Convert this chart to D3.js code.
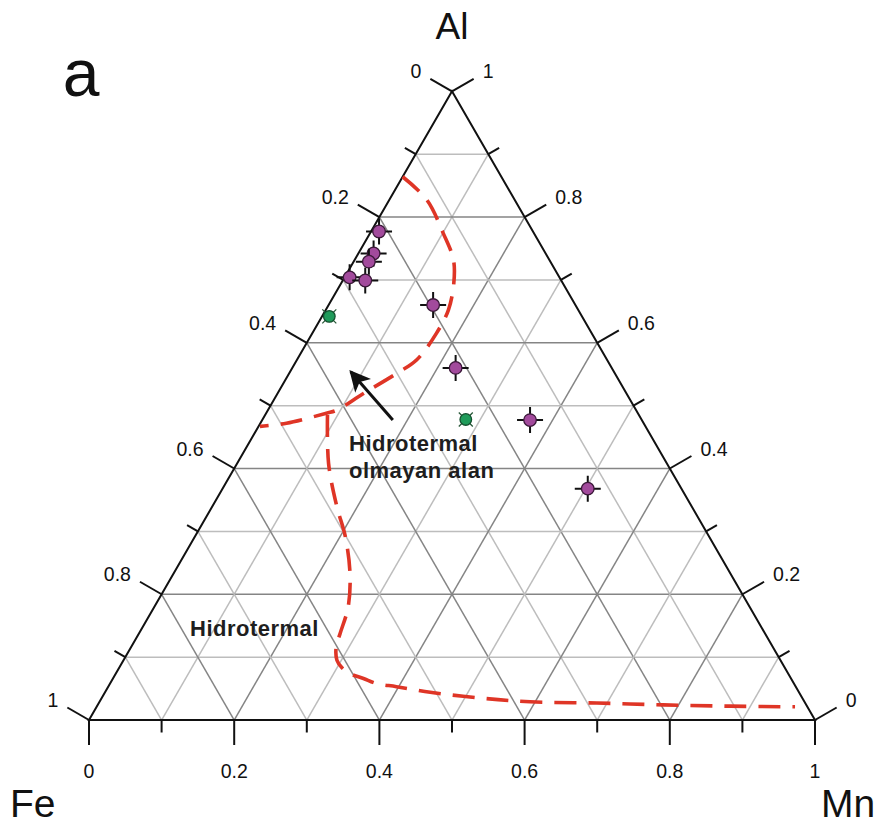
<!DOCTYPE html>
<html>
<head>
<meta charset="utf-8">
<script src="https://cdn.jsdelivr.net/npm/d3@7"></script>
<style>
  body { margin: 0; background: #fff; }
  svg { display: block; font-family: "Liberation Sans", Arial, sans-serif; }
</style>
</head>
<body>
<div id="chart"></div>
<script>
// sample compositions as fractions (Fe = 1 - Al - Mn)
const sampleAl = [0.777, 0.742, 0.729, 0.704, 0.699, 0.660, 0.560, 0.477, 0.368];
const sampleMn = [0.011, 0.021, 0.021, 0.007, 0.031, 0.144, 0.225, 0.369, 0.503];
const greenAl = [0.642, 0.478];
const greenMn = [0.010, 0.280];

// boundary of the non-hydrothermal field
const upperAl = [0.864, 0.827, 0.774, 0.732, 0.695, 0.652, 0.615, 0.573, 0.551, 0.519, 0.493, 0.488, 0.472, 0.467];
const upperMn = [0.000, 0.052, 0.101, 0.136, 0.155, 0.169, 0.171, 0.165, 0.148, 0.118, 0.095, 0.083, 0.036, 0.002];

// boundary of the hydrothermal field
const lowerAl = [0.485, 0.408, 0.339, 0.292, 0.233, 0.180, 0.138, 0.117, 0.095, 0.083, 0.074, 0.066, 0.058, 0.053, 0.044, 0.035, 0.029, 0.027, 0.024, 0.022, 0.021];
const lowerMn = [0.086, 0.126, 0.172, 0.207, 0.243, 0.267, 0.277, 0.282, 0.294, 0.307, 0.322, 0.345, 0.367, 0.397, 0.448, 0.521, 0.593, 0.686, 0.779, 0.872, 0.962];

const tickValues = [0, 0.1, 0.2, 0.3, 0.4, 0.5, 0.6, 0.7, 0.8, 0.9, 1];
const gridValues = [0.1, 0.2, 0.3, 0.4, 0.5, 0.6, 0.7, 0.8, 0.9];

const width = 885, height = 828;
const side = 726;
const x0 = 89, yBase = 720;

const svg = d3.select("#chart").append("svg")
    .attr("width", width)
    .attr("height", height);

// x runs along the base (Mn + Al/2), y is the Al height
const x = d3.scaleLinear().domain([0, 1]).range([x0, x0 + side]);
const y = d3.scaleLinear().domain([0, 1]).range([yBase, yBase - side * Math.sqrt(3) / 2]);
const px = (al, mn) => [x(mn + al / 2), y(al)];

const isMajor = v => Math.round(v * 10) % 2 === 0;
const fmt = v => String(+v.toFixed(1));

// grid
const gridG = svg.append("g").attr("fill", "none").attr("stroke-width", 1.5);
gridValues.forEach(v => {
    const col = isMajor(v) ? "#858585" : "#bdbdbd";
    const segs = [
        [px(v, 0), px(v, 1 - v)],          // Al = v
        [px(0, v), px(1 - v, v)],          // Mn = v
        [px(0, 1 - v), px(1 - v, 0)]       // Fe = v
    ];
    segs.forEach(s => gridG.append("line")
        .attr("x1", s[0][0]).attr("y1", s[0][1])
        .attr("x2", s[1][0]).attr("y2", s[1][1])
        .attr("stroke", col));
});

// frame
const corners = [px(0, 0), px(0, 1), px(1, 0)];
svg.append("path")
    .attr("d", d3.line()(corners) + "Z")
    .attr("fill", "none")
    .attr("stroke", "#111")
    .attr("stroke-width", 2);

// ticks and tick labels
const tickG = svg.append("g").attr("stroke", "#111").attr("stroke-width", 2);
const labelG = svg.append("g").attr("font-size", 19.5).attr("fill", "#111");
const c30 = Math.cos(Math.PI / 6), s30 = 0.5;
tickValues.forEach(v => {
    const len = isMajor(v) ? 25 : 12.5;
    // bottom: Mn
    const b = px(0, v);
    tickG.append("line").attr("x1", b[0]).attr("y1", b[1]).attr("x2", b[0]).attr("y2", b[1] + len);
    // left: Fe, ticks at Al = v on Mn = 0
    const l = px(v, 0);
    const le = [l[0] - c30 * len, l[1] - s30 * len];
    tickG.append("line").attr("x1", l[0]).attr("y1", l[1]).attr("x2", le[0]).attr("y2", le[1]);
    // right: Al, ticks at Al = v on Fe = 0
    const r = px(v, 1 - v);
    const re = [r[0] + c30 * len, r[1] - s30 * len];
    tickG.append("line").attr("x1", r[0]).attr("y1", r[1]).attr("x2", re[0]).attr("y2", re[1]);

    if (isMajor(v)) {
        labelG.append("text").attr("x", b[0]).attr("y", 778)
            .attr("text-anchor", "middle").text(fmt(v));
        labelG.append("text").attr("x", le[0] - 9).attr("y", le[1] - 0.5)
            .attr("text-anchor", "end").text(fmt(1 - v));
        labelG.append("text").attr("x", re[0] + 9).attr("y", re[1] - 0.5)
            .attr("text-anchor", "start").text(fmt(v));
    }
});

// apex names
const nameG = svg.append("g").attr("fill", "#111");
nameG.append("text").attr("x", 452).attr("y", 39).attr("font-size", 37).attr("text-anchor", "middle").text("Al");
nameG.append("text").attr("x", 10).attr("y", 817).attr("font-size", 39).text("Fe");
nameG.append("text").attr("x", 821).attr("y", 817).attr("font-size", 39).text("Mn");
nameG.append("text").attr("x", 81).attr("y", 96).attr("font-size", 66).attr("text-anchor", "middle").text("a");

// boundaries
const curve = d3.line().curve(d3.curveCatmullRom.alpha(0.5));
const bounds = [
    d3.zip(upperAl, upperMn).map(d => px(d[0], d[1])),
    d3.zip(lowerAl, lowerMn).map(d => px(d[0], d[1]))
];
svg.append("g").selectAll("path")
    .data(bounds)
    .join("path")
    .attr("d", d => curve(d))
    .attr("fill", "none")
    .attr("stroke", "#df3526")
    .attr("stroke-width", 3.6)
    .attr("stroke-dasharray", "22,12");

// arrow
svg.append("defs").append("marker")
    .attr("id", "head")
    .attr("viewBox", "0 0 10 10")
    .attr("refX", 9).attr("refY", 5)
    .attr("markerWidth", 7).attr("markerHeight", 7)
    .attr("markerUnits", "strokeWidth")
    .attr("orient", "auto")
    .append("path").attr("d", "M0,0L10,5L0,10L2.5,5Z").attr("fill", "#111");
const arrowFrom = px(0.477, 0.180), arrowTo = px(0.554, 0.0835);
svg.append("line")
    .attr("x1", arrowFrom[0]).attr("y1", arrowFrom[1])
    .attr("x2", arrowTo[0]).attr("y2", arrowTo[1])
    .attr("stroke", "#111").attr("stroke-width", 3)
    .attr("marker-end", "url(#head)");

// field labels
const noteG = svg.append("g").attr("font-size", 22).attr("font-weight", "bold")
    .attr("fill", "#1e1e1e").attr("letter-spacing", 0.5);
noteG.append("text").attr("x", 349).attr("y", 451).text("Hidrotermal");
noteG.append("text").attr("x", 349).attr("y", 478).text("olmayan alan");
noteG.append("text").attr("x", 190).attr("y", 636).text("Hidrotermal");

// samples with error crosses
const samples = d3.zip(sampleAl, sampleMn).map(d => px(d[0], d[1]));
const sg = svg.append("g").selectAll("g").data(samples).join("g")
    .attr("transform", d => `translate(${d[0]},${d[1]})`);
sg.append("path").attr("d", "M-13,0H13M0,-13V13")
    .attr("stroke", "#111").attr("stroke-width", 2);
sg.append("circle").attr("r", 6.3)
    .attr("fill", "#a24a9c").attr("stroke", "#3a1838").attr("stroke-width", 1.3);

const greens = d3.zip(greenAl, greenMn).map(d => px(d[0], d[1]));
const gg = svg.append("g").selectAll("g").data(greens).join("g")
    .attr("transform", d => `translate(${d[0]},${d[1]})`);
gg.append("path").attr("d", "M-7,-7L7,7M-7,7L7,-7")
    .attr("stroke", "#2a5a3a").attr("stroke-width", 1.3);
gg.append("circle").attr("r", 5.8)
    .attr("fill", "#1f9b5a").attr("stroke", "#14502f").attr("stroke-width", 1.3);
</script>
</body>
</html>
